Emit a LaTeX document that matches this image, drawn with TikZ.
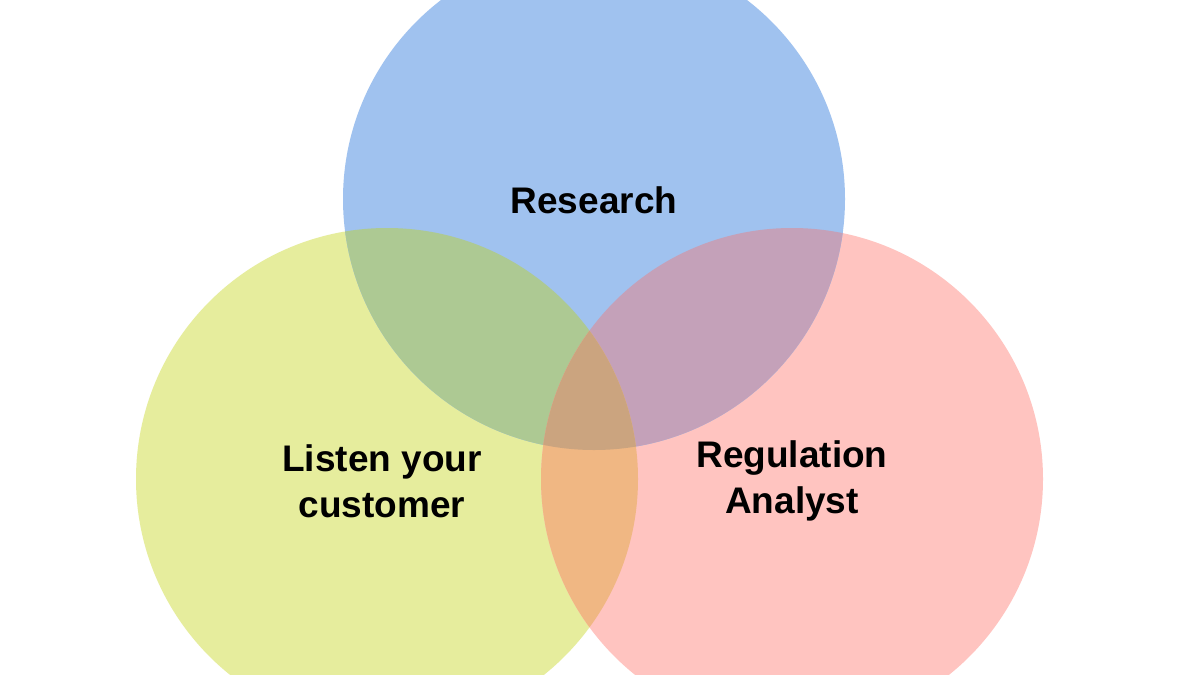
\documentclass[tikz,border=0pt]{standalone}
\usepackage{fontspec}
\setmainfont{Liberation Sans}
\definecolor{cB}{HTML}{A0C2EF}
\definecolor{cG}{HTML}{E6ED9D}
\definecolor{cR}{HTML}{FFC4C0}
\definecolor{cBG}{HTML}{ADC993}
\definecolor{cBR}{HTML}{C4A1B9}
\definecolor{cGR}{HTML}{F0B783}
\definecolor{cAll}{HTML}{CBA47F}
\begin{document}
\begin{tikzpicture}[x=1pt,y=-1pt,
  lbl/.style={font=\bfseries\fontsize{37}{46}\selectfont,align=center,text=black}]
\useasboundingbox (0,0) rectangle (1200,675);
\clip (0,0) rectangle (1200,675);
\fill[white] (0,0) rectangle (1200,675);
\def\B{(594,199) circle (251)}
\def\G{(387,479) circle (251)}
\def\R{(792,479) circle (251)}
\fill[cG] \G; \fill[cR] \R; \fill[cB] \B;
\begin{scope}\clip \B; \fill[cBG] \G; \fill[cBR] \R; \end{scope}
\begin{scope}\clip \G; \fill[cGR] \R; \clip \R; \fill[cAll] \B; \end{scope}
\node[lbl] (research) at (594,200) {Research};
\node[lbl] (listen) at (382,481) {Listen your\\customer};
\node[lbl] (reg) at (792,481) {Regulation\\Analyst};
\end{tikzpicture}
\end{document}
